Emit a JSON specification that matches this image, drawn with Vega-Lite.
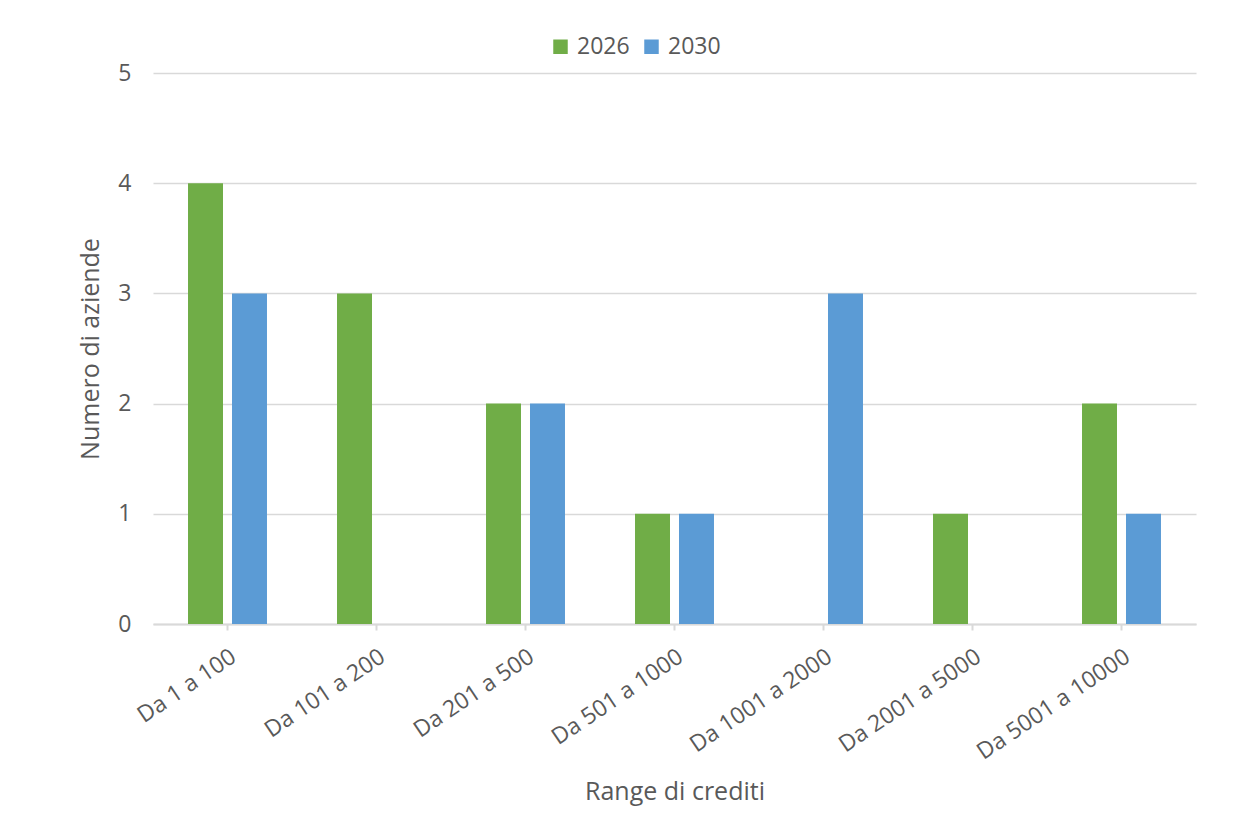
{
  "$schema": "https://vega.github.io/schema/vega-lite/v6.json",
  "width": 1043,
  "height": 551,
  "autosize": "none",
  "padding": {"left": 153, "top": 73, "right": 39, "bottom": 203},
  "background": "white",
  "config": {
    "font": "Open Sans",
    "view": {"stroke": null},
    "axis": {"labelColor": "#595959", "titleColor": "#595959", "labelFont": "Open Sans", "titleFont": "Open Sans", "titleFontWeight": "normal"}
  },
  "data": {
    "values": [
      {"range": "Da 1 a 100", "anno": "2026", "n": 4},
      {"range": "Da 1 a 100", "anno": "2030", "n": 3},
      {"range": "Da 101 a 200", "anno": "2026", "n": 3},
      {"range": "Da 101 a 200", "anno": "2030", "n": 0},
      {"range": "Da 201 a 500", "anno": "2026", "n": 2},
      {"range": "Da 201 a 500", "anno": "2030", "n": 2},
      {"range": "Da 501 a 1000", "anno": "2026", "n": 1},
      {"range": "Da 501 a 1000", "anno": "2030", "n": 1},
      {"range": "Da 1001 a 2000", "anno": "2026", "n": 0},
      {"range": "Da 1001 a 2000", "anno": "2030", "n": 3},
      {"range": "Da 2001 a 5000", "anno": "2026", "n": 1},
      {"range": "Da 2001 a 5000", "anno": "2030", "n": 0},
      {"range": "Da 5001 a 10000", "anno": "2026", "n": 2},
      {"range": "Da 5001 a 10000", "anno": "2030", "n": 1}
    ]
  },
  "mark": {"type": "bar"},
  "encoding": {
    "x": {
      "field": "range",
      "type": "nominal",
      "sort": null,
      "scale": {"paddingInner": 0.47, "paddingOuter": 0.235},
      "axis": {
        "title": "Range di crediti",
        "titleFontSize": 25,
        "titlePadding": 16,
        "labelFontSize": 23,
        "labelAngle": -34,
        "labelPadding": 15,
        "domainColor": "#d9d9d9",
        "domainWidth": 2,
        "tickColor": "#d9d9d9",
        "tickWidth": 2,
        "tickSize": 6,
        "grid": false
      }
    },
    "xOffset": {
      "field": "anno",
      "type": "nominal",
      "scale": {"paddingInner": 0.2045, "paddingOuter": 0}
    },
    "y": {
      "field": "n",
      "type": "quantitative",
      "scale": {"domain": [0, 5]},
      "axis": {
        "title": "Numero di aziende",
        "titleFontSize": 25,
        "titlePadding": 14,
        "labelFontSize": 23,
        "labelPadding": 22,
        "values": [0, 1, 2, 3, 4, 5],
        "domain": false,
        "ticks": false,
        "grid": true,
        "gridColor": "#d9d9d9",
        "gridWidth": 1.5
      }
    },
    "color": {
      "field": "anno",
      "type": "nominal",
      "scale": {"domain": ["2026", "2030"], "range": ["#70ad47", "#5b9bd5"]},
      "legend": {
        "title": null,
        "orient": "none",
        "direction": "horizontal",
        "legendX": 396,
        "legendY": -38,
        "symbolType": "square",
        "symbolSize": 210,
        "symbolStrokeWidth": 0,
        "labelFontSize": 23,
        "labelColor": "#595959",
        "labelFont": "Open Sans",
        "columnPadding": 10,
        "labelOffset": 5
      }
    }
  }
}
